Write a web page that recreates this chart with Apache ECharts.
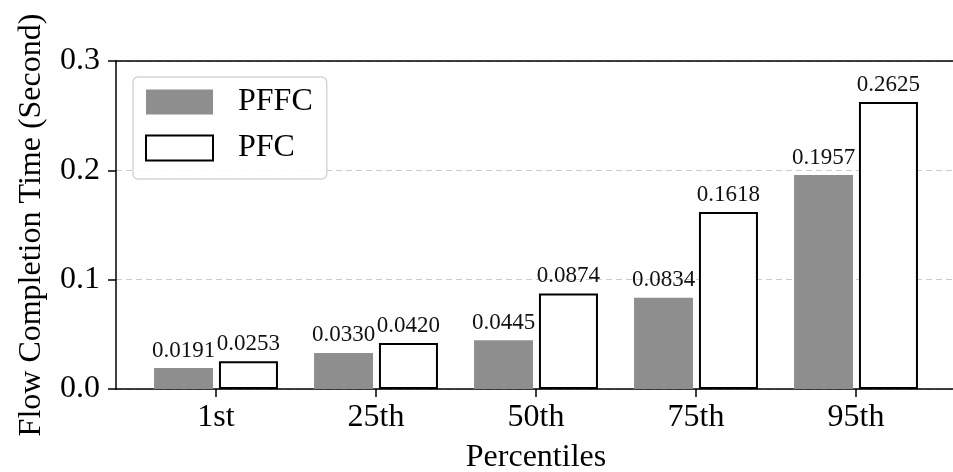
<!DOCTYPE html>
<html>
<head>
<meta charset="utf-8">
<script src="https://cdn.jsdelivr.net/npm/echarts@6/dist/echarts.min.js"></script>
<style>html,body{margin:0;padding:0;background:#fff}#c{width:953px;height:472px}</style>
</head>
<body>
<div id="c"></div>
<script>
const categories = ['1st', '25th', '50th', '75th', '95th'];
const pffc = [0.0191, 0.0330, 0.0445, 0.0834, 0.1957];
const pfc = [0.0253, 0.0420, 0.0874, 0.1618, 0.2625];
const yTicks = [0, 0.1, 0.2, 0.3];

const FONT = "'Liberation Serif', 'Times New Roman', serif";
const chart = echarts.init(document.getElementById('c'), null, {renderer: 'canvas'});
const idx = categories.map((_, i) => i);

const labelCfg = {
  show: true, position: 'top', distance: 6,
  fontFamily: FONT, fontSize: 23, color: '#111',
  formatter: p => p.value[1].toFixed(4)
};

chart.setOption({
  animation: false,
  textStyle: {fontFamily: FONT},
  grid: {left: 116, top: 61, right: -3, bottom: 83, show: false, outerBoundsMode: 'none', containLabel: false},
  legend: {
    left: 133, top: 77, orient: 'vertical',
    padding: [9, 14, 15, 12],
    itemWidth: 67, itemHeight: 25, itemGap: 14,
    backgroundColor: 'rgba(255,255,255,0.85)',
    borderColor: '#d6d6d6', borderWidth: 1.5, borderRadius: 5,
    textStyle: {fontFamily: FONT, fontSize: 32, color: '#000', lineHeight: 32, padding: [0, 0, 0, 20]},
    data: [{name: 'PFFC', icon: 'rect'}, {name: 'PFC', icon: 'rect'}]
  },
  xAxis: [{
    type: 'value', min: -0.625, max: 4.625,
    name: 'Percentiles', nameLocation: 'middle', nameGap: 53,
    nameTextStyle: {fontFamily: FONT, fontSize: 32, color: '#000'},
    axisLine: {show: true, onZero: false, lineStyle: {color: '#000', width: 1.5}},
    axisTick: {show: true, length: 8, lineStyle: {color: '#000', width: 1.5}, customValues: idx},
    axisLabel: {customValues: idx, formatter: v => categories[Math.round(v)], fontFamily: FONT, fontSize: 32, color: '#000', margin: 13},
    splitLine: {show: false}
  }, {
    type: 'value', position: 'top', min: -0.625, max: 4.625,
    axisLine: {show: true, onZero: false, lineStyle: {color: '#000', width: 1.5}},
    axisTick: {show: false}, axisLabel: {show: false}, splitLine: {show: false}
  }],
  yAxis: {
    type: 'value', min: yTicks[0], max: yTicks[yTicks.length - 1], interval: 0.1,
    name: 'Flow Completion Time (Second)', nameLocation: 'middle', nameGap: 68,
    nameTextStyle: {fontFamily: FONT, fontSize: 32, color: '#000'},
    axisLine: {show: true, onZero: false, lineStyle: {color: '#000', width: 1.5}},
    axisTick: {show: true, length: 8, lineStyle: {color: '#000', width: 1.5}},
    axisLabel: {formatter: v => v.toFixed(1), fontFamily: FONT, fontSize: 32, color: '#000', margin: 16},
    splitLine: {show: true, lineStyle: {color: '#cccccc', type: [6, 4], width: 1.2}}
  },
  series: [
    {
      name: 'PFFC', type: 'bar', barWidth: 59, barGap: '10%',
      itemStyle: {color: '#8e8e8e'},
      label: labelCfg,
      data: pffc.map((v, i) => [i, v])
    },
    {
      name: 'PFC', type: 'bar', barWidth: 59, barGap: '10%',
      itemStyle: {color: '#ffffff', borderColor: '#000', borderWidth: 2},
      label: labelCfg,
      data: pfc.map((v, i) => [i, v])
    }
  ]
});
</script>
</body>
</html>
